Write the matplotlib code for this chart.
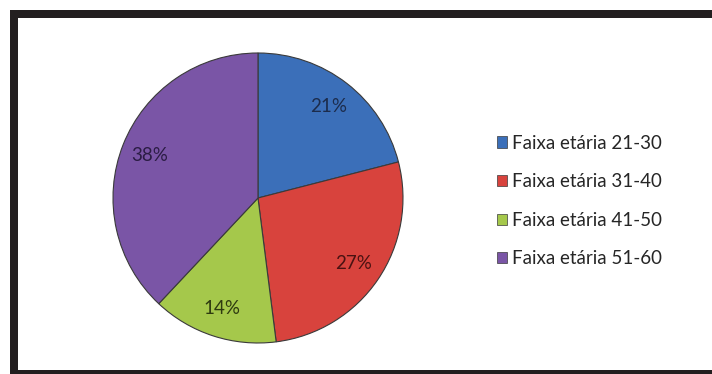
import matplotlib
matplotlib.use("Agg")
import matplotlib.pyplot as plt
from matplotlib.patches import Rectangle

# Age-group shares
categories = ["Faixa etária 21-30", "Faixa etária 31-40",
              "Faixa etária 41-50", "Faixa etária 51-60"]
shares = [21, 27, 14, 38]
slice_colors = ["#3b6fb9", "#d8433d", "#a5c84b", "#7a55a6"]
label_colors = ["#1c2c4c", "#4a1212", "#2e3a10", "#2b1c44"]

plt.rcParams["font.family"] = ["Lato", "DejaVu Sans"]

fig = plt.figure(figsize=(7.12, 3.74), dpi=100)
fig.patch.set_facecolor("white")

ax = fig.add_axes([0.1587, 0.0829, 0.4073, 0.7754])
wedges, texts, autotexts = ax.pie(
    shares,
    colors=slice_colors,
    startangle=90,
    counterclock=False,
    autopct="%d%%",
    pctdistance=0.8,
    wedgeprops=dict(edgecolor="#3a3a3a", linewidth=0.8),
    textprops=dict(fontsize=13.5),
)
for t, c in zip(autotexts, label_colors):
    t.set_color(c)
ax.set_xlim(-1.0, 1.0)
ax.set_ylim(-1.0, 1.0)
ax.set_aspect("equal")

leg = fig.legend(
    wedges, categories,
    loc="upper left", bbox_to_anchor=(0.685, 0.665),
    frameon=False, fontsize=13.5,
    handlelength=0.55, handleheight=0.55, handletextpad=0.25,
    labelspacing=1.15, borderpad=0.0,
)
for h in leg.legend_handles:
    h.set_linewidth(0.5)
for t in leg.get_texts():
    t.set_color("#262626")

# Black frame along the top, left and bottom edges
frame_color = "#231f20"
W, H = 712, 374
for x0, y0, w, h in [(10, 10, 702, 8), (10, 10, 8, 364), (10, 370, 702, 4)]:
    fig.patches.append(Rectangle((x0 / W, 1 - (y0 + h) / H), w / W, h / H,
                                 transform=fig.transFigure,
                                 facecolor=frame_color, edgecolor="none"))

fig.savefig("out.png", dpi=100)
